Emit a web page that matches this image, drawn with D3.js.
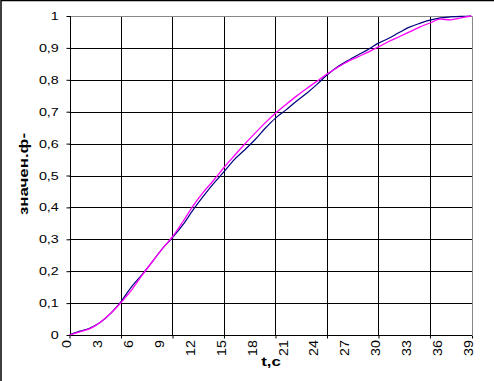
<!DOCTYPE html>
<html>
<head>
<meta charset="utf-8">
<script src="https://cdn.jsdelivr.net/npm/d3@7"></script>
<style>
  body { margin: 0; background: #fff; }
  .tick-label { font-family: "Liberation Sans", Arial, sans-serif; font-size: 11px; fill: #000; }
  .axis-title { font-family: "Liberation Sans", Arial, sans-serif; font-size: 13px; font-weight: bold; fill: #000; }
</style>
</head>
<body>
<div id="chart"></div>
<script>
// time, seconds
const tValues = [0, 1, 2, 3, 4, 5, 6, 7, 8, 9, 10, 11, 12, 13, 14, 15, 16, 17, 18, 19,
  20, 21, 22, 23, 24, 25, 26, 27, 28, 29, 30, 31, 32, 33, 34, 35, 36, 37, 38, 39];

// navy curve
const navyValues = [0, 0.012, 0.022, 0.040, 0.068, 0.105, 0.150, 0.188, 0.228, 0.270,
  0.305, 0.345, 0.392, 0.435, 0.475, 0.512, 0.550, 0.580, 0.612, 0.648,
  0.680, 0.705, 0.732, 0.757, 0.785, 0.815, 0.840, 0.860, 0.878, 0.895,
  0.915, 0.930, 0.948, 0.965, 0.977, 0.987, 0.994, 0.997, 0.999, 1.0];

// magenta curve
const magentaValues = [0, 0.010, 0.020, 0.040, 0.068, 0.102, 0.140, 0.185, 0.228, 0.270,
  0.308, 0.355, 0.405, 0.448, 0.485, 0.525, 0.562, 0.598, 0.632, 0.665,
  0.695, 0.722, 0.748, 0.772, 0.795, 0.818, 0.838, 0.857, 0.872, 0.887,
  0.903, 0.920, 0.935, 0.950, 0.965, 0.978, 0.990, 0.988, 0.994, 1.0];

const xLabelTicks = [0, 3, 6, 9, 12, 15, 18, 21, 24, 27, 30, 33, 36, 39];
const xGridTicks = [0, 5, 10, 15, 20, 25, 30, 35];
const yTicks = [0, 0.1, 0.2, 0.3, 0.4, 0.5, 0.6, 0.7, 0.8, 0.9, 1];

const xTitle = "t,c";
const yTitle = "значен.ф-";

const width = 494, height = 381;
const margin = { top: 16, right: 22, bottom: 46, left: 69.5 };
const stretch = 1.3; // the fonts in the picture are drawn wide

const svg = d3.select("#chart")
  .append("svg")
  .attr("width", width)
  .attr("height", height);

// outer frame, only top and left are visible
svg.append("path")
  .attr("d", `M1,${height} V0.5 H${width}`)
  .attr("fill", "none")
  .attr("stroke", "#000")
  .attr("stroke-width", 1.5);

const x = d3.scaleLinear()
  .domain([0, 39.08])
  .range([margin.left, width - margin.right]);

const y = d3.scaleLinear()
  .domain([0, 1])
  .range([height - margin.bottom, margin.top]);

const x0 = x.range()[0], x1 = x.range()[1];
const yb = y.range()[0], yt = y.range()[1];

// horizontal grid
svg.append("g")
  .selectAll("line")
  .data(yTicks.filter(d => d > 0 && d < 1))
  .enter()
  .append("line")
  .attr("x1", x0).attr("x2", x1)
  .attr("y1", d => Math.round(y(d)) + 0.5)
  .attr("y2", d => Math.round(y(d)) + 0.5)
  .attr("stroke", "#000");

// vertical grid
svg.append("g")
  .selectAll("line")
  .data(xGridTicks.filter(d => d > 0))
  .enter()
  .append("line")
  .attr("x1", d => Math.round(x(d)) + 0.5)
  .attr("x2", d => Math.round(x(d)) + 0.5)
  .attr("y1", yt).attr("y2", yb)
  .attr("stroke", "#000");

// plot border top & right (gray)
svg.append("path")
  .attr("d", `M${x0},${Math.round(yt) + 0.5} H${Math.round(x1) + 0.5} V${yb}`)
  .attr("fill", "none")
  .attr("stroke", "#888");

// y axis
const yAxis = svg.append("g")
  .attr("transform", `translate(${Math.round(x0) + 0.5},0)`)
  .call(d3.axisLeft(y)
    .tickValues(yTicks)
    .tickSize(4)
    .tickFormat(d => d3.format("~g")(d).replace(".", ",")));
yAxis.select(".domain").attr("stroke", "#000").attr("d", `M0,${yt}V${yb}`);
yAxis.selectAll(".tick line").attr("stroke", "#000");
yAxis.selectAll(".tick text")
  .attr("class", "tick-label")
  .attr("x", -9)
  .attr("dy", "0.32em")
  .attr("transform", `scale(${stretch},1)`)
  .style("font-size", null)
  .style("font-family", null);
yAxis.attr("font-size", null).attr("font-family", null);

// x axis: ticks every 5 s
const xTickAxis = svg.append("g")
  .attr("transform", `translate(0,${Math.round(yb) + 0.5})`)
  .call(d3.axisBottom(x)
    .tickValues(xGridTicks.concat([39.08]))
    .tickSize(3)
    .tickFormat(""));
xTickAxis.select(".domain").attr("stroke", "#000").attr("d", `M${x0},0H${x1}`);
xTickAxis.selectAll(".tick line").attr("stroke", "#000");

// x axis: labels every 3 s, rotated
const xLabelAxis = svg.append("g")
  .attr("transform", `translate(0,${Math.round(yb) + 5})`)
  .call(d3.axisBottom(x)
    .tickValues(xLabelTicks)
    .tickSize(0)
    .tickFormat(d3.format("d")));
xLabelAxis.attr("font-size", null).attr("font-family", null);
xLabelAxis.select(".domain").remove();
xLabelAxis.selectAll(".tick text")
  .attr("class", "tick-label")
  .attr("x", 0)
  .attr("y", 0)
  .attr("dy", "0.35em")
  .attr("text-anchor", "end")
  .attr("transform", `translate(-3,0) rotate(-90) scale(${stretch},1.1)`);

// series
const line = d3.line()
  .x((d, i) => x(tValues[i]))
  .y(d => y(d))
  .curve(d3.curveMonotoneX);

svg.append("path")
  .datum(navyValues)
  .attr("fill", "none")
  .attr("stroke", "#000080")
  .attr("stroke-width", 1.2)
  .attr("d", line);

svg.append("path")
  .datum(magentaValues)
  .attr("fill", "none")
  .attr("stroke", "#ff00ff")
  .attr("stroke-width", 1.3)
  .attr("d", line);

// axis titles
svg.append("text")
  .attr("class", "axis-title")
  .attr("text-anchor", "middle")
  .attr("transform", `translate(271,366) scale(${stretch},1)`)
  .text(xTitle);

svg.append("text")
  .attr("class", "axis-title")
  .attr("text-anchor", "middle")
  .attr("transform", `translate(28,174) rotate(-90) scale(${stretch},1)`)
  .text(yTitle);
</script>
</body>
</html>
